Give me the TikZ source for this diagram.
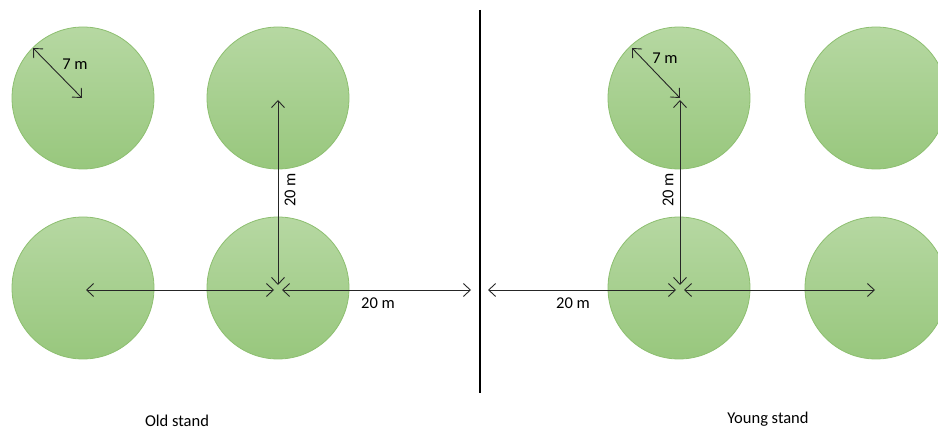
\documentclass[tikz,border=0pt]{standalone}
\usepackage{fontspec}
\setmainfont{Carlito}
\usepackage{xcolor}
\usetikzlibrary{arrows.meta}
\definecolor{treetop}{HTML}{B6D8A2}
\definecolor{treebottom}{HTML}{98C77D}
\definecolor{treeedge}{HTML}{8DBF70}
\definecolor{dimline}{HTML}{262626}

\begin{document}
\begin{tikzpicture}[x=1pt,y=-1pt,>={Straight Barb[length=7pt,width=13pt]},every node/.style={font=\fontsize{16.5}{19}\selectfont},tree/.style={circle,draw=treeedge,line width=0.8pt,top color=treetop,bottom color=treebottom,minimum size=142pt,inner sep=0pt},dim/.style={<->,draw=dimline,line width=0.9pt},standname/.style={inner sep=0pt}]
\useasboundingbox (0,0) rectangle (938,430);
% old stand
\node[tree] (oldA) at (83,98) {};
\node[tree] (oldB) at (278,98) {};
\node[tree] (oldC) at (83,288) {};
\node[tree] (oldD) at (278,288) {};
% young stand
\node[tree] (youngA) at (679,98) {};
\node[tree] (youngB) at (876,98) {};
\node[tree] (youngC) at (679,288) {};
\node[tree] (youngD) at (876,288) {};
% divider
\coordinate (divtop) at (480,10);
\coordinate (divbot) at (480,393);
\draw[line width=2.6pt] (divtop)--(divbot);
% dimension points
\coordinate (oldR) at (33,48);
\coordinate (oldRc) at (82,98);
\coordinate (oldBt) at (278,100);
\coordinate (oldDt) at (278,285);
\coordinate (oldCc) at (86,290);
\coordinate (oldDl) at (274,290);
\coordinate (oldDr) at (282,290);
\coordinate (oldEnd) at (471,290);
\coordinate (youngR) at (632,48);
\coordinate (youngRc) at (680,98);
\coordinate (youngAt) at (680,100);
\coordinate (youngCt) at (680,285);
\coordinate (youngBeg) at (488,290);
\coordinate (youngCl) at (676,290);
\coordinate (youngCr) at (684,290);
\coordinate (youngDc) at (875,290);
\draw[dim] (oldR)--(oldRc);
\draw[dim] (oldBt)--(oldDt);
\draw[dim] (oldCc)--(oldDl);
\draw[dim] (oldDr)--(oldEnd);
\draw[dim] (youngR)--(youngRc);
\draw[dim] (youngAt)--(youngCt);
\draw[dim] (youngBeg)--(youngCl);
\draw[dim] (youngCr)--(youngDc);
% labels
\node (oldRad) at (75,64) {7 m};
\node[rotate=90] (oldVert) at (290,190) {20 m};
\node (oldHor) at (378,303) {20 m};
\node (youngRad) at (665,58) {7 m};
\node[rotate=90] (youngVert) at (668,190) {20 m};
\node (youngHor) at (573,303) {20 m};
\node[standname] (oldName) at (177,421) {Old stand};
\node[standname] (youngName) at (768,419) {Young stand};
\end{tikzpicture}
\end{document}
